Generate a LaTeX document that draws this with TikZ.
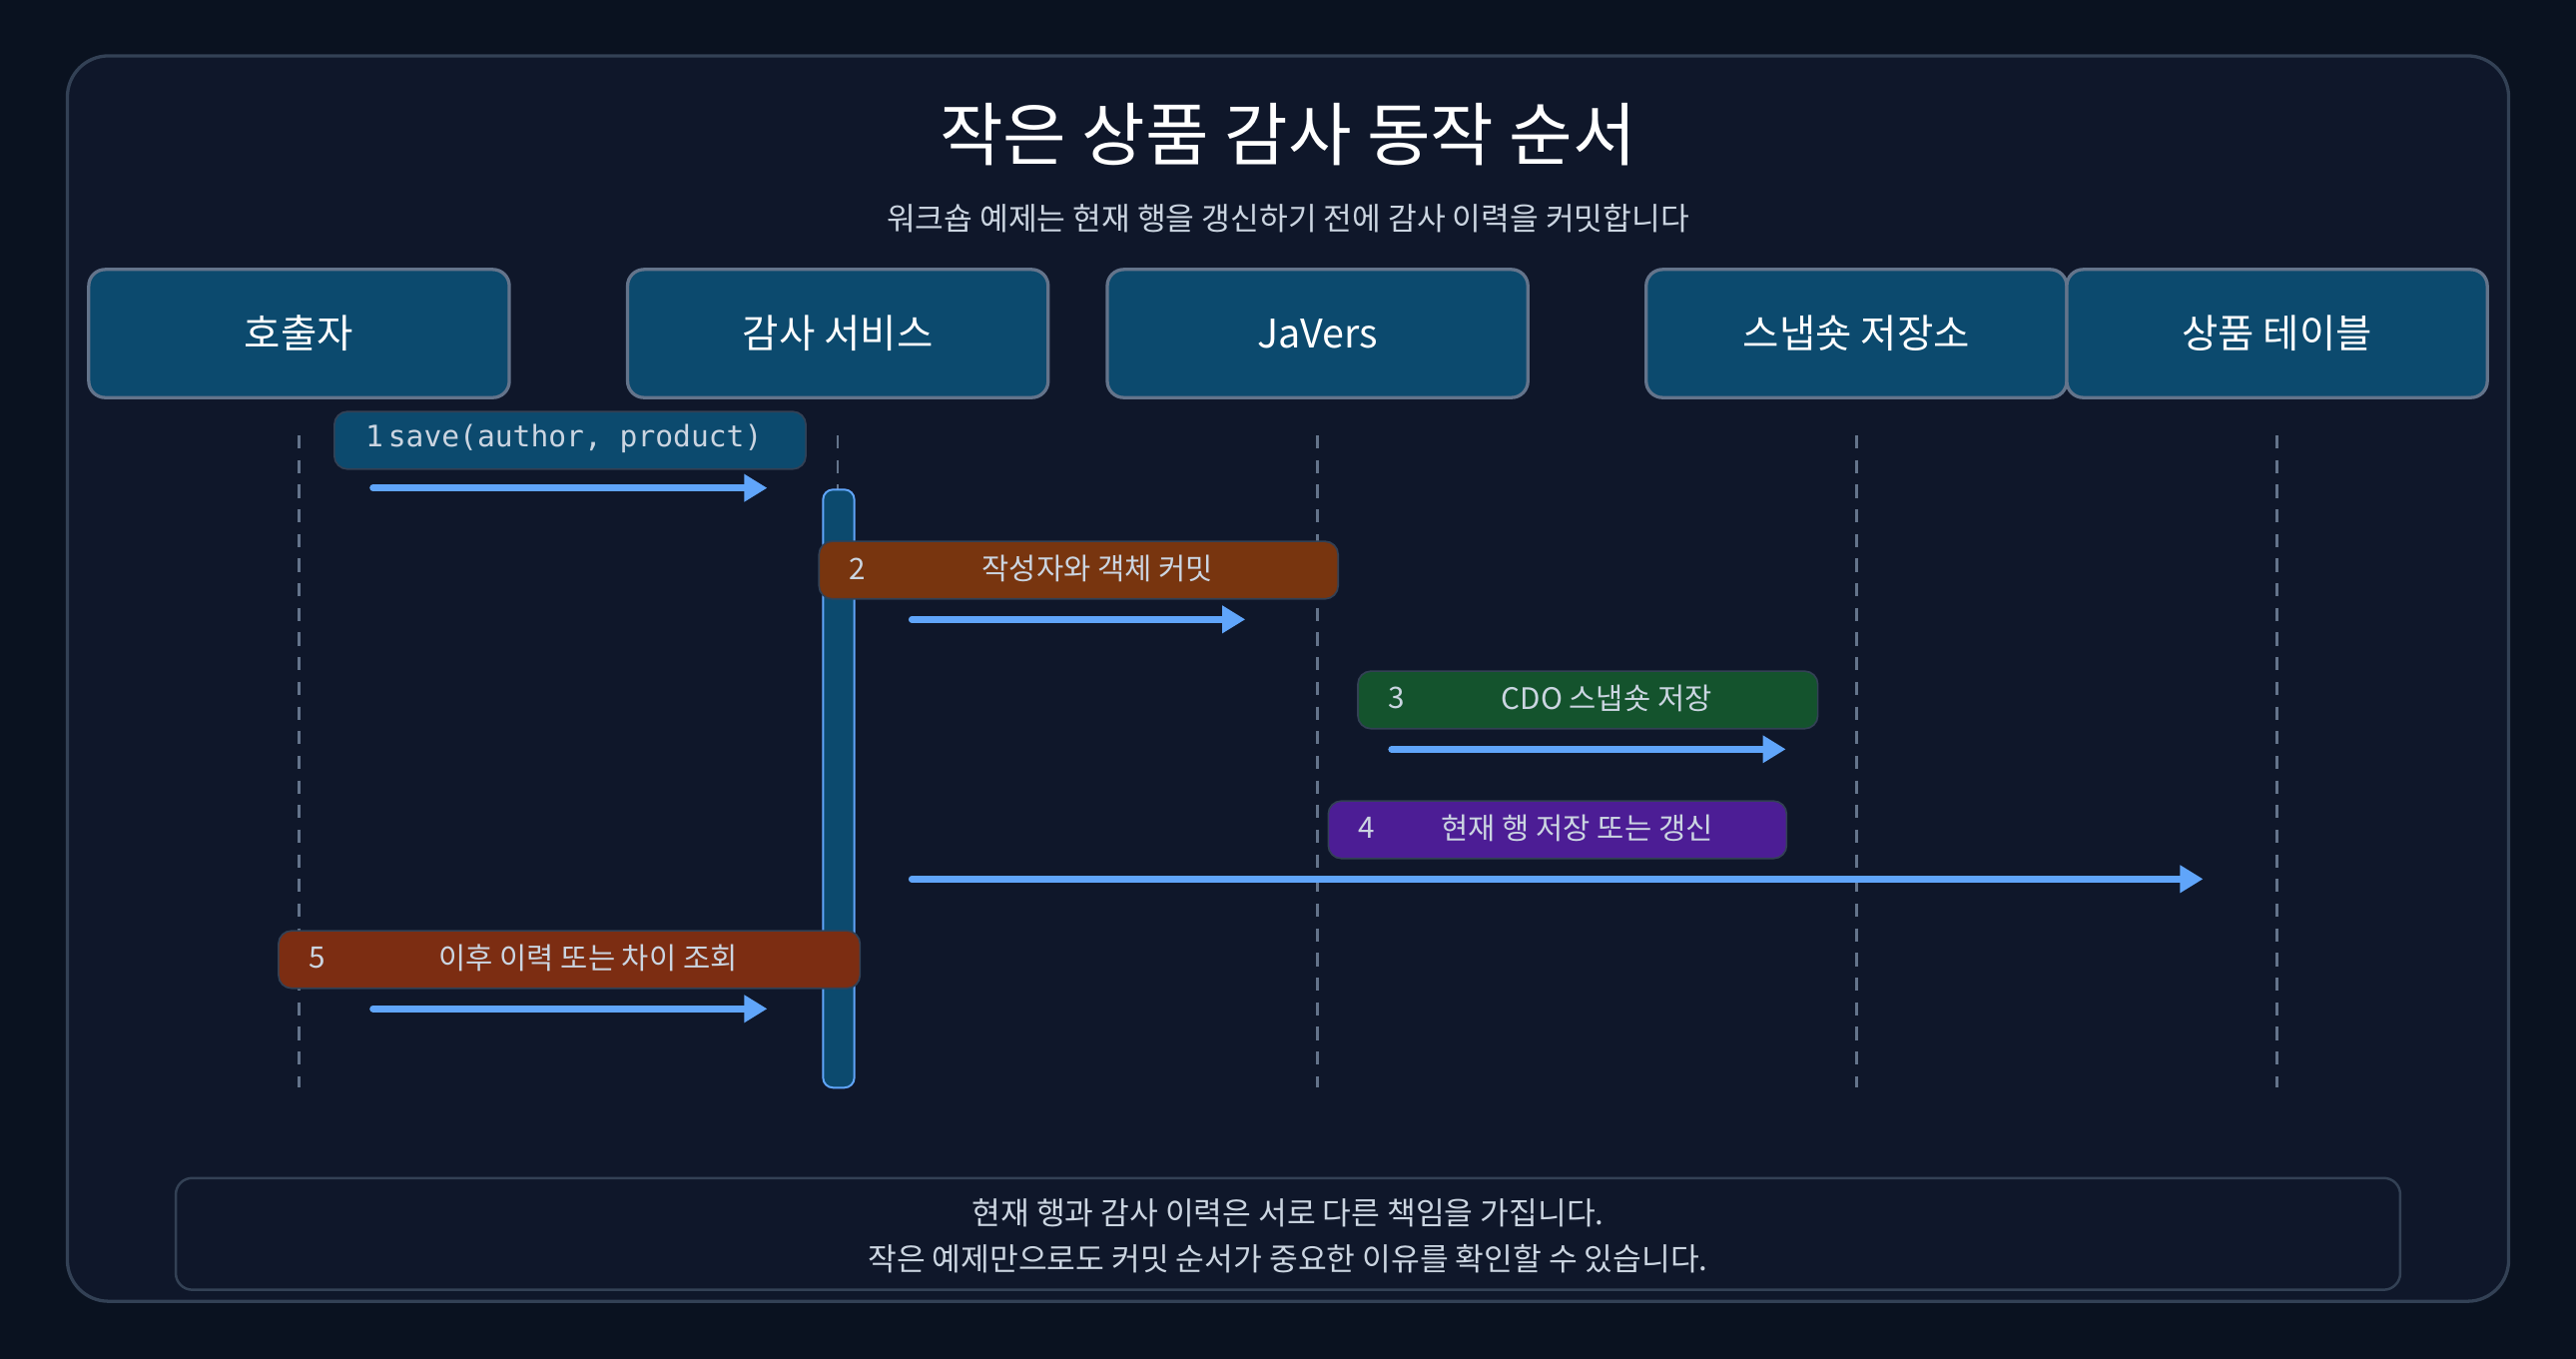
\documentclass[tikz,border=0pt]{standalone}
\usepackage{fontspec}
\setmainfont{Noto Sans CJK KR}
\newfontfamily\monof{DejaVu Sans Mono}
\usetikzlibrary{arrows.meta}
\definecolor{bgc}{HTML}{0A1220}
\definecolor{panel}{HTML}{0F172A}
\definecolor{panelb}{HTML}{334155}
\definecolor{part}{HTML}{0C4A6E}
\definecolor{partb}{HTML}{64748B}
\definecolor{arr}{HTML}{60A5FA}
\definecolor{brownA}{HTML}{78350F}
\definecolor{brownB}{HTML}{7C2D12}
\definecolor{greenA}{HTML}{14532D}
\definecolor{purpA}{HTML}{4C1D95}
\definecolor{subc}{HTML}{CBD5E1}
\tikzset{
  part/.style={draw=partb,line width=2pt,fill=part,rounded corners=10pt,minimum width=256pt,minimum height=78pt,text=white,font=\fontsize{24}{28}\selectfont},
  life/.style={draw=partb,line width=1.6pt,dash pattern=on 8pt off 7pt},
  lbl/.style={draw=panelb,line width=1pt,rounded corners=8pt,minimum height=35pt,anchor=north west,inner sep=0pt},
  msgt/.style={text=subc,font=\fontsize{18}{22}\selectfont},
  msg/.style={draw=arr,line width=4pt,line cap=round,-{Triangle[length=14pt,width=16pt]}},
}
\begin{document}
\begin{tikzpicture}[x=1pt,y=-1pt]
\useasboundingbox (0,0) rectangle (1568,827);
\fill[bgc] (0,0) rectangle (1568,827);
\draw[panelb,fill=panel,line width=2pt,rounded corners=25pt] (41,34) rectangle (1527,792);
\node[text=white,font=\fontsize{42}{48}\selectfont] (title) at (784,82) {작은 상품 감사 동작 순서};
\node[text=subc,font=\fontsize{19}{23}\selectfont] (sub) at (784,133) {워크숍 예제는 현재 행을 갱신하기 전에 감사 이력을 커밋합니다};
% participants
\node[part] (p1) at (182,203) {호출자};
\node[part] (p2) at (510,203) {감사 서비스};
\node[part] (p3) at (802,203) {JaVers};
\node[part] (p4) at (1130,203) {스냅숏 저장소};
\node[part] (p5) at (1386,203) {상품 테이블};
\foreach \x/\n in {182/1,510/2,802/3,1130/4,1386/5}{
  \coordinate (t\n) at (\x,265); \coordinate (b\n) at (\x,662);
  \draw[life] (t\n) -- (b\n);
}
% activation
\draw[arr,fill=part,line width=1.2pt,rounded corners=6pt] (501,298) rectangle (520,662);
% message 1
\node[lbl,fill=part,minimum width=287pt] (l1) at (203,250) {};
\node[text=subc,font=\monof\fontsize{18}{22}\selectfont,anchor=west] (l1t) at (219,267) {1\,save(author, product)};
\coordinate (m1a) at (227,297); \coordinate (m1b) at (467,297);
\draw[msg] (m1a) -- (m1b);
% message 2
\node[lbl,fill=brownA,minimum width=316pt] (l2) at (498,329) {};
\node[msgt] (l2n) at (522,346) {2};
\node[msgt] (l2t) at (668,346) {작성자와 객체 커밋};
\coordinate (m2a) at (555,377); \coordinate (m2b) at (758,377);
\draw[msg] (m2a) -- (m2b);
% message 3
\node[lbl,fill=greenA,minimum width=280pt] (l3) at (826,408) {};
\node[msgt] (l3n) at (850,425) {3};
\node[msgt] (l3t) at (978,425) {CDO 스냅숏 저장};
\coordinate (m3a) at (847,456); \coordinate (m3b) at (1087,456);
\draw[msg] (m3a) -- (m3b);
% message 4
\node[lbl,fill=purpA,minimum width=279pt] (l4) at (808,487) {};
\node[msgt] (l4n) at (832,504) {4};
\node[msgt] (l4t) at (960,504) {현재 행 저장 또는 갱신};
\coordinate (m4a) at (555,535); \coordinate (m4b) at (1341,535);
\draw[msg] (m4a) -- (m4b);
% message 5
\node[lbl,fill=brownB,minimum width=354pt] (l5) at (169,566) {};
\node[msgt] (l5n) at (193,583) {5};
\node[msgt] (l5t) at (358,583) {이후 이력 또는 차이 조회};
\coordinate (m5a) at (227,614); \coordinate (m5b) at (467,614);
\draw[msg] (m5a) -- (m5b);
% note
\draw[draw=panelb,fill=panel,line width=1.5pt,rounded corners=10pt] (107,717) rectangle (1461,785);
\node[text=subc,font=\fontsize{19}{23}\selectfont] (n1) at (784,738) {현재 행과 감사 이력은 서로 다른 책임을 가집니다.};
\node[text=subc,font=\fontsize{19}{23}\selectfont] (n2) at (784,766) {작은 예제만으로도 커밋 순서가 중요한 이유를 확인할 수 있습니다.};
\end{tikzpicture}
\end{document}
